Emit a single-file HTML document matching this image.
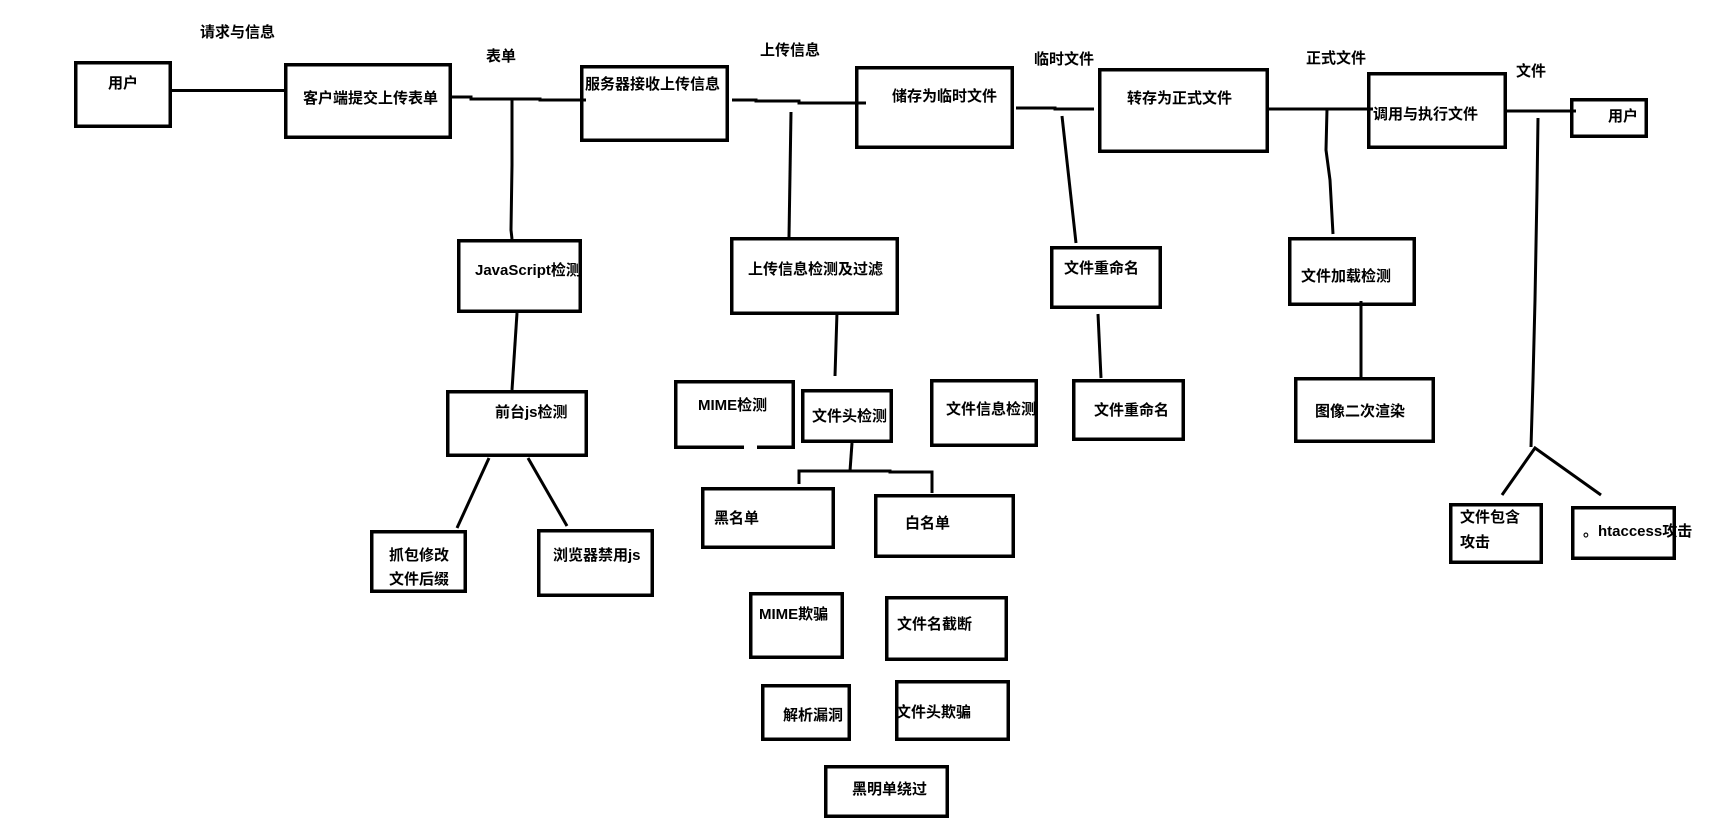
<!DOCTYPE html>
<html>
<head>
<meta charset="utf-8">
<style>
html,body{margin:0;padding:0;background:#fff;}
svg{display:block;}
text{font-family:"Liberation Sans","Noto Sans CJK SC","WenQuanYi Zen Hei",sans-serif;font-size:15px;font-weight:bold;fill:#000;}
</style>
</head>
<body>
<svg width="1714" height="818" viewBox="0 0 1714 818" xmlns="http://www.w3.org/2000/svg">
<rect x="0" y="0" width="1714" height="818" fill="#fff"/>
<g fill="none" stroke="#000" stroke-width="3.5">
  <rect x="75.75" y="62.75" width="94.5" height="63.5"/>
  <rect x="285.75" y="64.75" width="164.5" height="72.5"/>
  <rect x="581.75" y="66.75" width="145.5" height="73.5"/>
  <rect x="856.75" y="67.75" width="155.5" height="79.5"/>
  <rect x="1099.75" y="69.75" width="167.5" height="81.5"/>
  <rect x="1368.75" y="73.75" width="136.5" height="73.5"/>
  <rect x="1571.75" y="99.75" width="74.5" height="36.5"/>
  <rect x="458.75" y="240.75" width="121.5" height="70.5"/>
  <rect x="731.75" y="238.75" width="165.5" height="74.5"/>
  <rect x="1051.75" y="247.75" width="108.5" height="59.5"/>
  <rect x="1289.75" y="238.75" width="124.5" height="65.5"/>
  <rect x="447.75" y="391.75" width="138.5" height="63.5"/>
  <rect x="371.75" y="531.75" width="93.5" height="59.5"/>
  <rect x="538.75" y="530.75" width="113.5" height="64.5"/>
  <rect x="675.75" y="381.75" width="117.5" height="65.5"/>
  <rect x="802.75" y="390.75" width="88.5" height="50.5"/>
  <rect x="931.75" y="380.75" width="104.5" height="64.5"/>
  <rect x="1073.75" y="380.75" width="109.5" height="58.5"/>
  <rect x="1295.75" y="378.75" width="137.5" height="62.5"/>
  <rect x="702.75" y="488.75" width="130.5" height="58.5"/>
  <rect x="875.75" y="495.75" width="137.5" height="60.5"/>
  <rect x="1450.75" y="504.75" width="90.5" height="57.5"/>
  <rect x="1572.75" y="507.75" width="101.5" height="50.5"/>
  <rect x="750.75" y="593.75" width="91.5" height="63.5"/>
  <rect x="886.75" y="597.75" width="119.5" height="61.5"/>
  <rect x="762.75" y="685.75" width="86.5" height="53.5"/>
  <rect x="896.75" y="681.75" width="111.5" height="57.5"/>
  <rect x="825.75" y="766.75" width="121.5" height="49.5"/>
</g>
<rect x="744" y="444" width="13" height="6" fill="#fff"/>
<g fill="none" stroke="#000" stroke-width="3" stroke-linecap="butt">
  <line x1="172" y1="90.5" x2="284" y2="90.5"/>
  <polyline points="452,97 471,97 471,99 540,99 540,100 586,100"/>
  <polyline points="512,99 512,165 511,230 512,239"/>
  <polyline points="732,100 756,100 756,101 799,101 799,103 866,103"/>
  <line x1="791" y1="112" x2="789" y2="237"/>
  <polyline points="1016,108 1055,108 1055,109 1094,109"/>
  <line x1="1062" y1="116" x2="1076" y2="243"/>
  <line x1="1269" y1="109" x2="1373" y2="109"/>
  <polyline points="1327,109 1326,150 1330,180 1333,234"/>
  <line x1="1505" y1="111" x2="1576" y2="111"/>
  <polyline points="1538,118 1537,190 1535,300 1533,380 1531,447"/>
  <polyline points="1502,495 1535,448 1601,495"/>
  <line x1="517" y1="313" x2="512" y2="390"/>
  <line x1="489" y1="458" x2="457" y2="528"/>
  <line x1="528" y1="458" x2="567" y2="526"/>
  <line x1="837" y1="312" x2="835" y2="376"/>
  <line x1="852" y1="443" x2="850" y2="471"/>
  <polyline points="799,484 799,471 890,471 890,472 932,472 932,493"/>
  <line x1="1098" y1="314" x2="1101" y2="378"/>
  <line x1="1361" y1="301" x2="1361" y2="377"/>
</g>
<text x="200" y="37">请求与信息</text>
<text x="486" y="61">表单</text>
<text x="760" y="55">上传信息</text>
<text x="1034" y="64">临时文件</text>
<text x="1306" y="63">正式文件</text>
<text x="1516" y="76">文件</text>
<text x="108" y="88">用户</text>
<text x="303" y="103">客户端提交上传表单</text>
<text x="585" y="89">服务器接收上传信息</text>
<text x="892" y="101">储存为临时文件</text>
<text x="1127" y="103">转存为正式文件</text>
<text x="1373" y="119">调用与执行文件</text>
<text x="1608" y="121">用户</text>
<text x="475" y="275">JavaScript检测</text>
<text x="748" y="274">上传信息检测及过滤</text>
<text x="1064" y="273">文件重命名</text>
<text x="1301" y="281">文件加载检测</text>
<text x="495" y="417">前台js检测</text>
<text x="389" y="560">抓包修改</text>
<text x="389" y="584">文件后缀</text>
<text x="553" y="560">浏览器禁用js</text>
<text x="698" y="410">MIME检测</text>
<text x="812" y="421">文件头检测</text>
<text x="946" y="414">文件信息检测</text>
<text x="1094" y="415">文件重命名</text>
<text x="1315" y="416">图像二次渲染</text>
<text x="714" y="523">黑名单</text>
<text x="905" y="528">白名单</text>
<text x="1460" y="522">文件包含</text>
<text x="1460" y="547">攻击</text>
<text x="1583" y="536">。htaccess攻击</text>
<text x="759" y="619">MIME欺骗</text>
<text x="897" y="629">文件名截断</text>
<text x="783" y="720">解析漏洞</text>
<text x="896" y="717">文件头欺骗</text>
<text x="852" y="794">黑明单绕过</text>
</svg>
</body>
</html>
